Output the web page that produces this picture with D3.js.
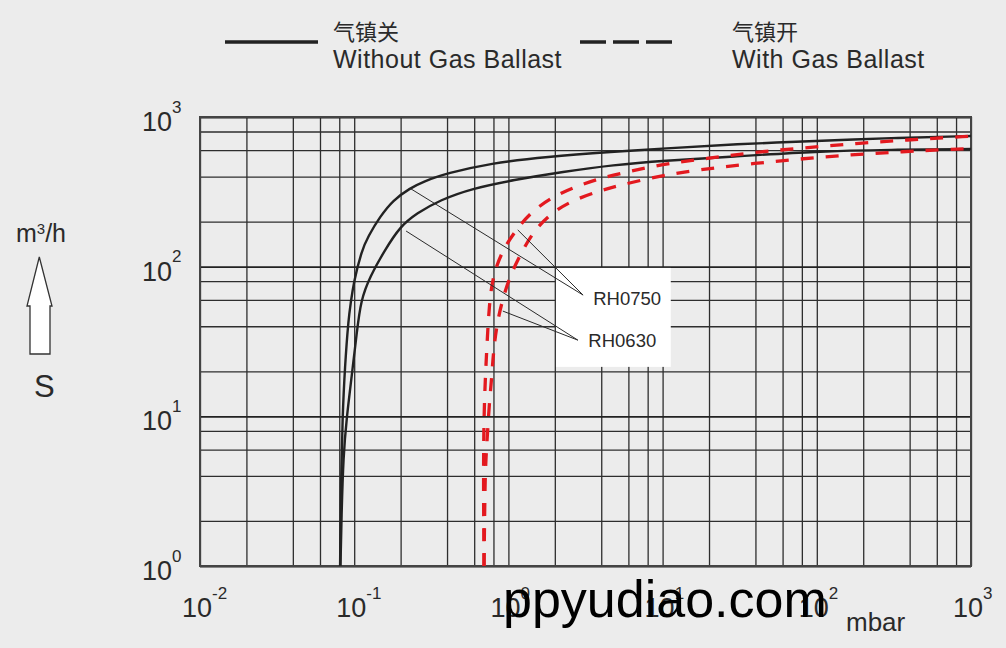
<!DOCTYPE html>
<html><head><meta charset="utf-8">
<script src="https://cdn.jsdelivr.net/npm/d3@7"></script>
<style>
html,body{margin:0;padding:0;background:#ececec;}
svg{display:block;}
text{font-family:"Liberation Sans",Arial,Helvetica,sans-serif;fill:#2a2a2a;}
</style></head><body>
<svg id="chart" width="1006" height="648"></svg>
<script>
// ---------- data ----------
const legendLabelsCn = ["气镇关", "气镇开"];
const legendLabelsEn = ["Without Gas Ballast", "With Gas Ballast"];

// pressure (mbar) / pumping speed S (m3/h)
const rh0750NoGbPressure = [0.081,0.082,0.084,0.087,0.092,0.095,0.099,0.112,0.123,0.147,0.179,0.23,0.28,0.40,0.76,1.77,4.8,10,30,100,300,1000];
const rh0750NoGbSpeed    = [1,3.6,9.9,21.5,46,57,78,129,159,216,279,334,370,421,491,543,586,615,660,691,724,746];

const rh0630NoGbPressure = [0.0815,0.0827,0.085,0.0894,0.0963,0.1038,0.1105,0.1266,0.158,0.198,0.254,0.36,0.59,1.07,2.26,4.8,10.1,28,100,300,1000];
const rh0630NoGbSpeed    = [1,2.13,5.4,9.9,18.4,36,60,86,129,185,227,279,334,379,431,478,510,543,590,604,611];

const rh0750GbPressure = [0.695,0.69,0.69,0.698,0.723,0.752,0.798,0.909,1.12,1.42,1.98,2.79,3.99,5.88,8.54,12.6,18.3,38.6,82.6,180,385,824,1000];
const rh0750GbSpeed    = [1,2.76,5.96,12.9,27.7,58.3,88,127,176,235,297,346,391,429,467,500,524,581,621,667,702,738,742];

const rh0630GbPressure = [0.695,0.705,0.716,0.734,0.752,0.779,0.798,0.837,0.902,1.01,1.19,1.44,1.86,2.62,4.05,5.37,7.8,11.5,16.7,35.8,76.7,167,357,764,1000];
const rh0630GbSpeed    = [1,3.75,5.37,8.1,12.2,17.95,26.4,39.7,56.9,83.6,119.6,170,225,279,325,351,385,416,442,485,524,560,586,611,613];

const xMajorTicks = [0.01,0.1,1,10,100,1000];
const xMajorExp   = ["-2","-1","0","1","2","3"];
const yMajorTicks = [1,10,100,1000];
const yMajorExp   = ["0","1","2","3"];
const gridMultipliers = [1,2,4,6,8];

const modelLabels = ["RH0750","RH0630"];
// annotation anchors in data units (pressure, speed)
const annotationText  = [[3.55,55.4],[3.30,29.2]];
const annotationEnd   = [[3.05,64.6],[2.82,32.3]];
const annotationFrom  = [[[0.23,334],[1.15,176]], [[0.217,173],[0.92,50.5]]];
const annotationBoxP  = [2.035,11.3];
const annotationBoxS  = [21.4,98.1];

// ---------- layout ----------
const svg = d3.select("#chart");
const X0 = 200, X1 = 971, Y0 = 117, Y1 = 566;
const x = d3.scaleLog().domain([0.01,1000]).range([X0,X1]);
const y = d3.scaleLog().domain([1,1000]).range([Y1,Y0]);

function gridValues(lo, hi){
  const out=[];
  for(let e=lo;e<hi;e++) gridMultipliers.forEach(m=>out.push(m*Math.pow(10,e)));
  out.push(Math.pow(10,hi));
  return out;
}
const xGrid = gridValues(-2,3);
const yGrid = gridValues(0,3);

// grid via axes
const gx = svg.append("g").attr("transform",`translate(0,${Y1})`)
  .call(d3.axisBottom(x).tickValues(xGrid).tickSize(-(Y1-Y0)).tickFormat(""));
gx.select(".domain").remove();
gx.selectAll(".tick line").attr("stroke","#2e2e2e").attr("stroke-width",1.3);

const gy = svg.append("g").attr("transform",`translate(${X0},0)`)
  .call(d3.axisLeft(y).tickValues(yGrid).tickSize(-(X1-X0)).tickFormat(""));
gy.select(".domain").remove();
gy.selectAll(".tick line").attr("stroke","#2e2e2e").attr("stroke-width",1.3);
gy.selectAll(".tick").filter(d=>yMajorTicks.includes(d)).select("line").attr("stroke-width",1.8).attr("stroke","#222");

// frame
svg.append("rect").attr("x",X0).attr("y",Y0).attr("width",X1-X0).attr("height",Y1-Y0)
  .attr("fill","none").attr("stroke","#444").attr("stroke-width",2);

// annotation box
svg.append("rect")
  .attr("x",x(annotationBoxP[0])).attr("y",y(annotationBoxS[1]))
  .attr("width",x(annotationBoxP[1])-x(annotationBoxP[0]))
  .attr("height",y(annotationBoxS[0])-y(annotationBoxS[1]))
  .attr("fill","#ffffff");

// curves
const line = d3.line().x(d=>x(d[0])).y(d=>y(d[1])).curve(d3.curveBasis);
const zip = (a,b)=>a.map((v,i)=>[v,b[i]]);
const series = [
  {p:rh0750NoGbPressure,s:rh0750NoGbSpeed,gb:false},
  {p:rh0630NoGbPressure,s:rh0630NoGbSpeed,gb:false},
  {p:rh0750GbPressure,s:rh0750GbSpeed,gb:true},
  {p:rh0630GbPressure,s:rh0630GbSpeed,gb:true}
];
svg.append("clipPath").attr("id","plotclip").append("rect")
  .attr("x",X0).attr("y",Y0).attr("width",X1-X0).attr("height",Y1-Y0);
svg.append("g").attr("clip-path","url(#plotclip)").selectAll("path").data(series).join("path")
  .attr("d",d=>line(zip(d.p,d.s)))
  .attr("fill","none")
  .attr("stroke",d=>d.gb?"#e3191f":"#222")
  .attr("stroke-width",d=>d.gb?3.3:2.4)
  .attr("stroke-dasharray",d=>d.gb?"13,12":null);

// leader lines + labels
modelLabels.forEach((lab,i)=>{
  annotationFrom[i].forEach(f=>{
    svg.append("line").attr("x1",x(f[0])).attr("y1",y(f[1]))
      .attr("x2",x(annotationEnd[i][0])).attr("y2",y(annotationEnd[i][1]))
      .attr("stroke","#2a2a2a").attr("stroke-width",1);
  });
  svg.append("text").attr("x",x(annotationText[i][0])).attr("y",y(annotationText[i][1]))
    .attr("font-size",18.5).text(lab);
});

// tick labels
const xl = svg.append("g");
xMajorTicks.forEach((v,i)=>{
  const t = xl.append("text").attr("x",x(v)-18).attr("y",617).attr("font-size",27);
  t.append("tspan").text("10");
  t.append("tspan").attr("dy",-18).attr("font-size",17).text(xMajorExp[i]);
});
yMajorTicks.forEach((v,i)=>{
  const t = xl.append("text").attr("x",142).attr("y",y(v)+14).attr("font-size",27);
  t.append("tspan").text("10");
  t.append("tspan").attr("dy",-18.5).attr("font-size",17).text(yMajorExp[i]);
});
svg.append("text").attr("x",846).attr("y",631).attr("font-size",26).text("mbar");

// y unit + arrow + S
const u = svg.append("text").attr("x",16).attr("y",242).attr("font-size",25);
u.append("tspan").text("m");
u.append("tspan").attr("dy",-8).attr("font-size",15).text("3");
u.append("tspan").attr("dy",8).text("/h");
svg.append("path").attr("d","M39.3,257 L52,306 L50,306 L50,354 L30,354 L30,306 L27,306 Z")
  .attr("fill","#fff").attr("stroke","#333").attr("stroke-width",1.3);
svg.append("text").attr("x",34).attr("y",397).attr("font-size",31).text("S");

// legend
svg.append("line").attr("x1",225).attr("x2",318).attr("y1",42).attr("y2",42)
  .attr("stroke","#222").attr("stroke-width",3.6);
svg.append("line").attr("x1",580).attr("x2",672).attr("y1",42).attr("y2",42)
  .attr("stroke","#222").attr("stroke-width",3.6).attr("stroke-dasharray","26,7");
[[333],[732]].forEach((p,i)=>{
  svg.append("text").attr("x",p[0]).attr("y",40).attr("font-size",22)
    .style("font-family","'Noto Sans CJK SC',sans-serif").text(legendLabelsCn[i]);
  svg.append("text").attr("x",p[0]).attr("y",68).attr("font-size",25)
    .attr("letter-spacing",0.5).text(legendLabelsEn[i]);
});

// watermark overlay
svg.append("text").attr("x",503).attr("y",617).attr("font-size",52)
  .style("fill","#000").text("ppyudiao.com");
</script>
</body></html>
